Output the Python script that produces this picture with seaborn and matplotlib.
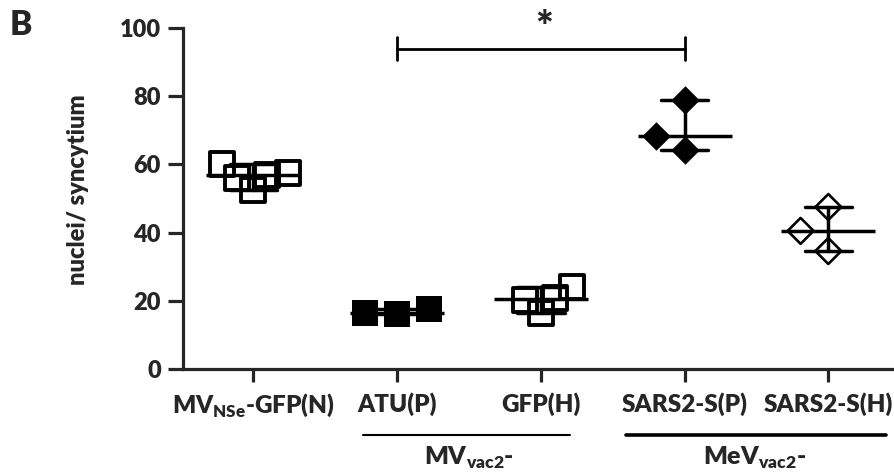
import numpy as np
import pandas as pd
import matplotlib
matplotlib.use("Agg")
import matplotlib.pyplot as plt
import seaborn as sns
from matplotlib.markers import MarkerStyle
from matplotlib.transforms import Affine2D, blended_transform_factory

# ---------------- data ----------------
categories = ["MVNSe-GFP(N)", "ATU(P)", "GFP(H)", "SARS2-S(P)", "SARS2-S(H)"]
tick_labels = [r"MV$_\mathregular{NSe}$-GFP(N)", "ATU(P)", "GFP(H)",
               "SARS2-S(P)", "SARS2-S(H)"]
mvnse_gfp_n = [60.0, 52.5, 56.9, 56.0, 57.4]
atu_p = [16.1, 17.6, 16.4]
gfp_h = [24.0, 16.5, 20.8, 20.2]
sars2_s_p = [64.2, 68.3, 78.9]
sars2_s_h = [34.6, 40.5, 47.5]
group_labels = [r"MV$_\mathregular{vac2}$-", r"MeV$_\mathregular{vac2}$-"]
y_ticks = [0, 20, 40, 60, 80, 100]
y_label = "nuclei/ syncytium"
sig_label = "*"

series = [mvnse_gfp_n, atu_p, gfp_h, sars2_s_p, sars2_s_h]
df = pd.DataFrame({
    "cat": [c for c, vals in zip(categories, series) for _ in vals],
    "val": [v for vals in series for v in vals],
})

# ---------------- style ----------------
sns.set_style("ticks")
WT = "heavy"
plt.rcParams["font.family"] = ["Lato", "DejaVu Sans"]
plt.rcParams["font.weight"] = WT
plt.rcParams["mathtext.fontset"] = "custom"
plt.rcParams["mathtext.rm"] = "Lato:heavy"
plt.rcParams["mathtext.bf"] = "Lato:heavy"
plt.rcParams["axes.labelweight"] = WT


def mk(shape, k):
    """Marker drawn at k times its nominal (swarm-collision) size."""
    return MarkerStyle(shape, transform=Affine2D().scale(k))


W, H = 895, 473
fig = plt.figure(figsize=(W / 100, H / 100), dpi=100)
ax = fig.add_axes([183 / W, 1 - 369 / H, (893 - 183) / W, (369 - 28) / H])

# ---------------- points ----------------
def sub(cats):
    return df[df["cat"].isin(cats)]

sns.swarmplot(data=sub([categories[0], categories[2]]), x="cat", y="val",
              order=categories, marker=mk("s", 1.5), color="none",
              edgecolor="black", linewidth=2.8, size=11.5, ax=ax)
sns.swarmplot(data=sub([categories[1]]), x="cat", y="val",
              order=categories, marker=mk("s", 0.82),
              color="black", edgecolor="black", linewidth=0, size=22, ax=ax)
sns.swarmplot(data=sub([categories[3]]), x="cat", y="val",
              order=categories, marker=mk("D", 0.66),
              color="black", edgecolor="black", linewidth=0, size=22, ax=ax)
sns.swarmplot(data=sub([categories[4]]), x="cat", y="val",
              order=categories, marker=mk("D", 0.6),
              color="none", edgecolor="black", linewidth=1.9, size=22, ax=ax)

# median with range
sns.pointplot(data=df, x="cat", y="val", order=categories,
              estimator="median", errorbar=("pi", 100), capsize=0.33,
              color="black", linestyle="none", marker="_",
              markersize=68, markeredgewidth=2.5,
              err_kws={"linewidth": 2.5}, ax=ax)

# ---------------- axes ----------------
ax.set_xlim(-0.49, 4.45)
ax.set_ylim(0, 100)
ax.set_yticks(y_ticks)
ax.set_xticks(range(len(categories)))
ax.set_xticklabels(tick_labels, fontsize=17.5, fontweight=WT)
ax.set_yticklabels([str(t) for t in y_ticks], fontsize=17, fontweight=WT)
ax.set_xlabel("")
ax.set_ylabel(y_label, fontsize=17, fontweight=WT)
ax.yaxis.set_label_coords(-0.133, 0.525)
sns.despine(ax=ax)
for s in ["left", "bottom"]:
    ax.spines[s].set_linewidth(2.3)
ax.tick_params(axis="y", width=2.3, length=11, pad=5)
ax.tick_params(axis="x", width=2.3, length=9.5, pad=7)

# significance bracket
ax.plot([1, 3], [93.8, 93.8], color="black", lw=2.0, clip_on=False)
ax.plot([1, 1], [90.6, 97.4], color="black", lw=2.0, clip_on=False)
ax.plot([3, 3], [90.6, 97.4], color="black", lw=2.0, clip_on=False)
ax.text(2.02, 94.0, sig_label, ha="center", va="bottom", fontsize=30,
        fontweight=WT, clip_on=False)

# group lines under the x labels
tr = blended_transform_factory(ax.transData, ax.transAxes)
ax.plot([0.76, 2.2], [-0.194, -0.194], transform=tr, color="black",
        lw=1.5, clip_on=False)
ax.plot([2.59, 4.4], [-0.194, -0.194], transform=tr, color="black",
        lw=2.6, clip_on=False)
ax.text(1.5, -0.262, group_labels[0], transform=tr, ha="center", va="center",
        fontsize=18, fontweight=WT)
ax.text(3.49, -0.262, group_labels[1], transform=tr, ha="center", va="center",
        fontsize=18, fontweight=WT)

fig.text(10 / W, 1 - 9 / H, "B", ha="left", va="top", fontsize=24,
         fontweight=WT)

fig.savefig("out.png", dpi=100)
